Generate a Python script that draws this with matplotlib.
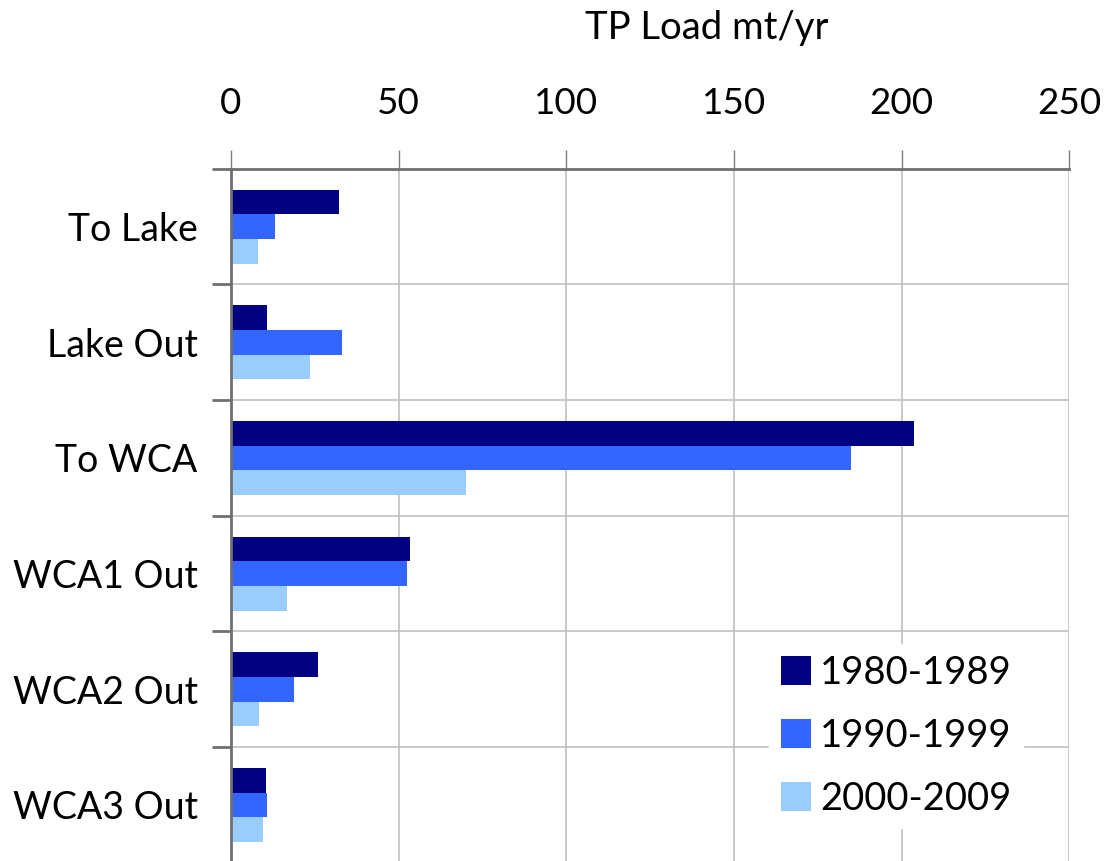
import numpy as np
import matplotlib
matplotlib.use('Agg')
import matplotlib.pyplot as plt

plt.rcParams['font.family'] = ['Lato', 'DejaVu Sans']

# data
categories = ['To Lake', 'Lake Out', 'To WCA', 'WCA1 Out', 'WCA2 Out', 'WCA3 Out']
series_names = ['1980-1989', '1990-1999', '2000-2009']
load_1980s = [32.1, 10.8, 203.6, 53.4, 26.0, 10.5]
load_1990s = [13.2, 33.1, 185.0, 52.5, 18.7, 10.8]
load_2000s = [8.1, 23.6, 70.2, 16.7, 8.4, 9.6]
colors = ['#000080', '#3366FF', '#99CCFF']

fig = plt.figure(figsize=(11.16, 8.61), dpi=100)
ax = fig.add_axes([0.207, -0.002, 0.751, 0.806])

y = np.arange(len(categories))
bar_h = 0.213
for i, vals in enumerate([load_1980s, load_1990s, load_2000s]):
    ax.barh(y + (i - 1) * bar_h, vals, height=bar_h, color=colors[i],
            label=series_names[i], zorder=3)

ax.set_xlim(0, 250)
ax.set_ylim(len(categories) - 0.5, -0.5)

# x axis on top
ax.xaxis.set_ticks_position('top')
ax.xaxis.set_label_position('top')
ax.set_xticks([0, 50, 100, 150, 200, 250])
ax.tick_params(axis='x', which='major', length=14, width=1, color='#7f7f7f',
               labelsize=26.5, pad=21)
ax.grid(axis='x', color='#c0c0c0', linewidth=1.2, zorder=0)

# y axis: labels at category centres, ticks at boundaries
ax.set_yticks(y)
ax.set_yticklabels(categories)
ax.tick_params(axis='y', which='major', length=0, labelsize=27, pad=24)
ax.set_yticks(np.arange(len(categories) + 1) - 0.5, minor=True)
ax.tick_params(axis='y', which='minor', length=14, width=2, color='#6f6f6f')
ax.grid(axis='y', which='minor', color='#c0c0c0', linewidth=1.2, zorder=0)

for side in ['right', 'bottom']:
    ax.spines[side].set_visible(False)
ax.spines['top'].set_color('#6f6f6f')
ax.spines['top'].set_linewidth(2)
ax.spines['left'].set_color('#6f6f6f')
ax.spines['left'].set_linewidth(2)
ax.spines['top'].set_zorder(4)
ax.spines['left'].set_zorder(4)

fig.text(707 / 1116, 1 - 28 / 861, 'TP Load mt/yr', ha='center', va='center',
         fontsize=27.5)

leg = ax.legend(loc='lower right', bbox_to_anchor=(1023 / 1116, 33 / 861),
                bbox_transform=fig.transFigure, borderaxespad=0,
                fontsize=27.5, frameon=True, fancybox=False,
                handlelength=0.8, handleheight=0.8, handletextpad=0.22,
                labelspacing=0.7, borderpad=0.3)
leg.get_frame().set_edgecolor('white')
leg.get_frame().set_facecolor('white')
leg.get_frame().set_alpha(1)
leg.set_zorder(5)

fig.savefig('out.png', dpi=100)
